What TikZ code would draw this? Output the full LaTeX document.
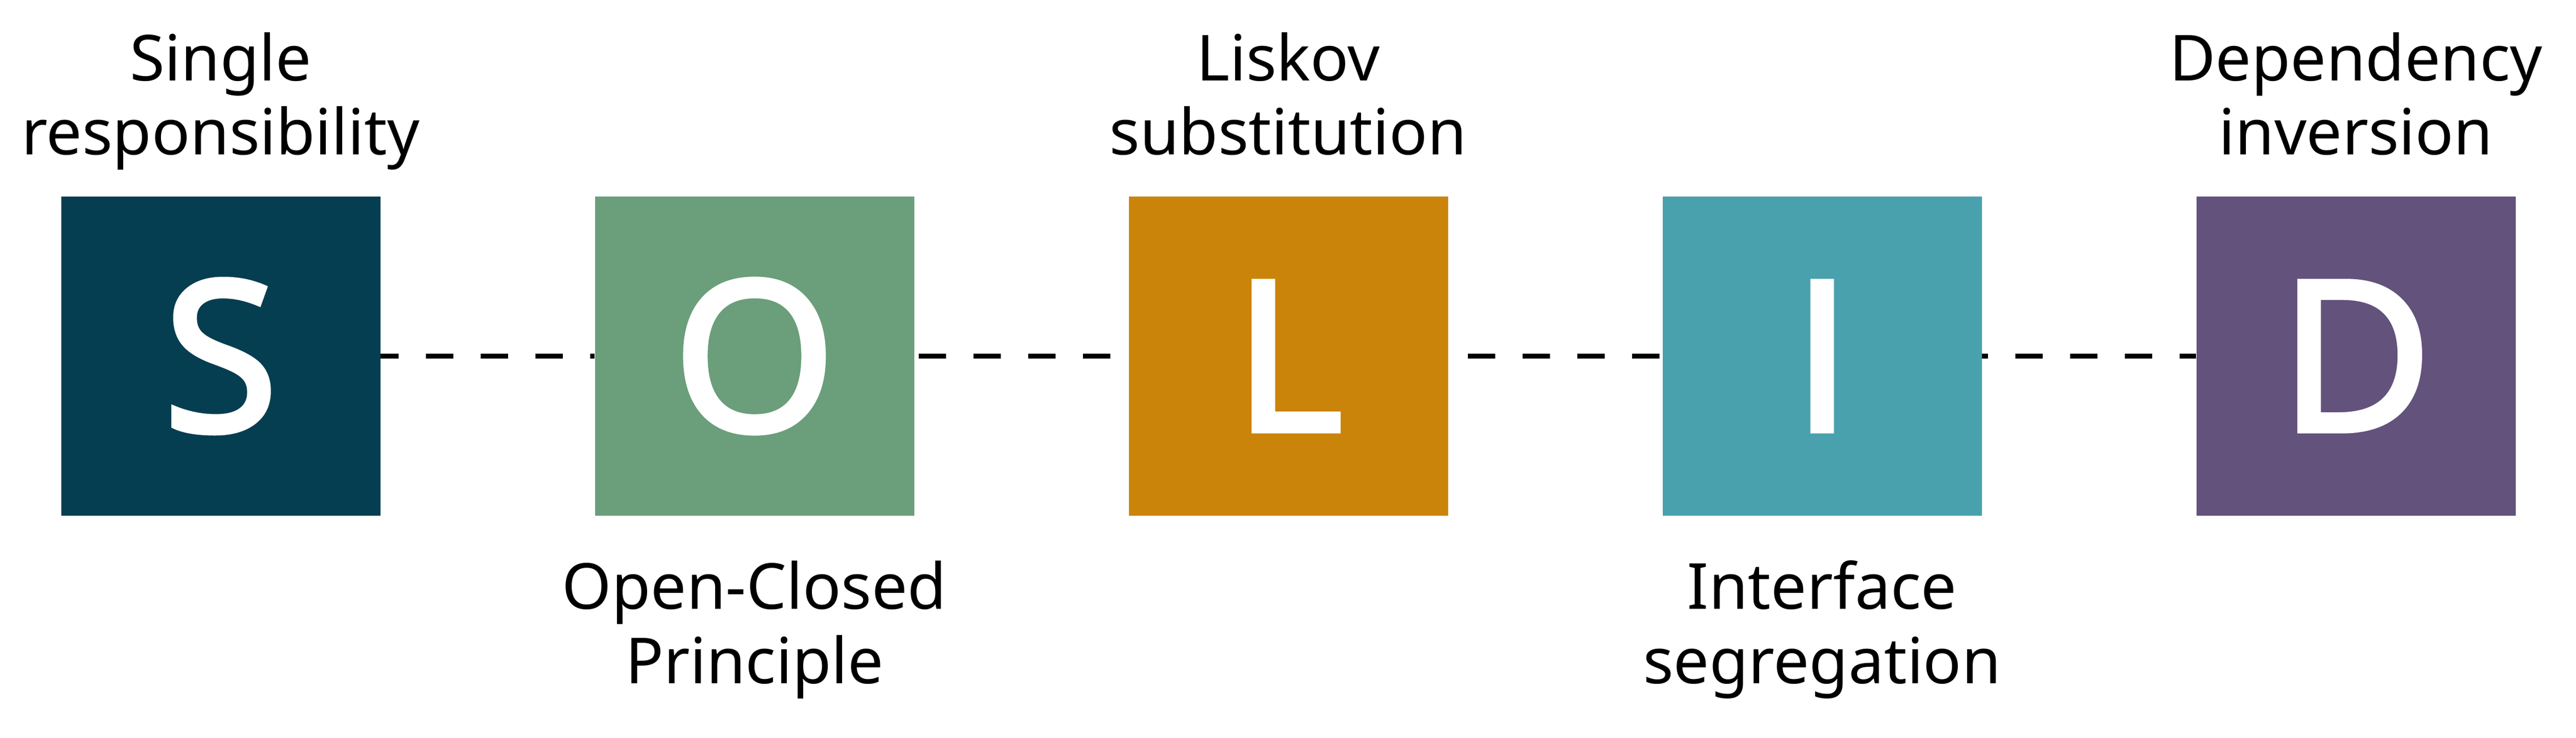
\documentclass[tikz,border=0pt]{standalone}
\usepackage{fontspec}
\setmainfont{Noto Sans}
\newfontfamily\letterfont{Open Sans}[FakeBold=3]
\definecolor{solidS}{HTML}{053E50}
\definecolor{solidO}{HTML}{6B9E7A}
\definecolor{solidL}{HTML}{CA8409}
\definecolor{solidI}{HTML}{49A1AD}
\definecolor{solidD}{HTML}{63527C}

\begin{document}
\begin{tikzpicture}
				\tikzstyle{letter}=[minimum size=5.83cm, inner sep=0pt, text=white, font=\fontsize{108}{108}\selectfont\letterfont]
				\tikzstyle{principle}=[inner sep=0pt, align=center, anchor=base, font=\fontsize{33}{38.6}\selectfont]
				\tikzstyle{link}=[line width=0.09cm, dash pattern=on 0.5cm off 0.5cm]
				\useasboundingbox (0, 0) rectangle (47.05, 13.47);
				\node[letter, fill=solidS] (S) at (4.03, 6.965) {S};
				\node[letter, fill=solidO] (O) at (13.78, 6.965) {O};
				\node[letter, fill=solidL] (L) at (23.53, 6.965) {L};
				\node[letter, fill=solidI] (I) at (33.28, 6.965) {I};
				\node[letter, fill=solidD] (D) at (43.03, 6.965) {D};
				\draw [link, dash phase=0.17cm] (S) -- (O);
				\draw [link, dash phase=0.92cm] (O) -- (L);
				\draw [link, dash phase=0.64cm] (L) -- (I);
				\draw [link, dash phase=0.39cm] (I) -- (D);
				% names of the principles
				\node[principle] (Sname) at (4.03, 10.64) {Single\\responsibility};
				\node[principle] (Oname) at (13.78, 0.99) {Open-Closed\\Principle};
				\node[principle] (Lname) at (23.53, 10.64) {Liskov\\substitution};
				\node[principle] (Iname) at (33.28, 0.99) {Interface\\segregation};
				\node[principle] (Dname) at (43.03, 10.64) {Dependency\\inversion};
		\end{tikzpicture}
\end{document}
